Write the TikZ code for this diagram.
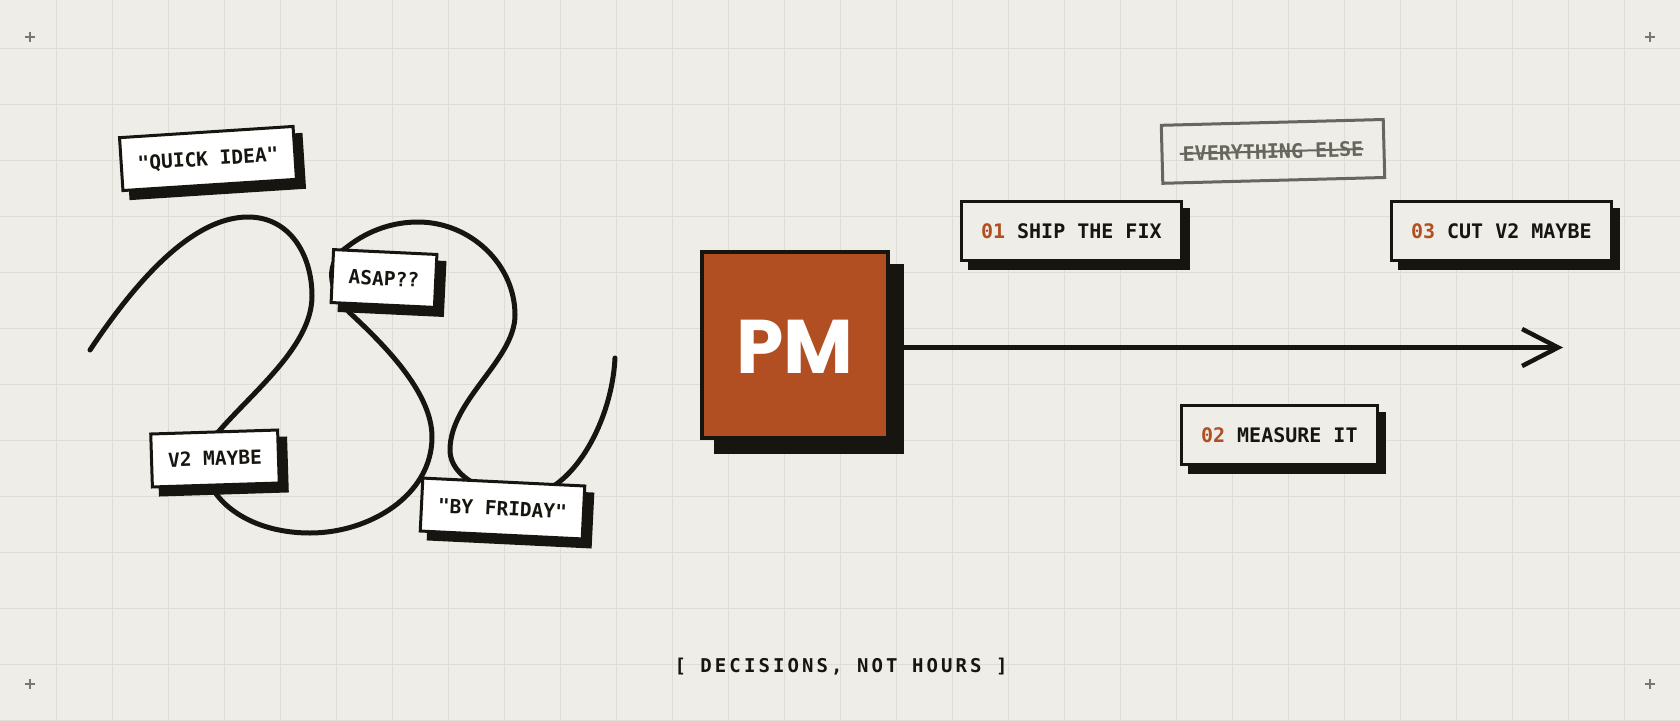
\documentclass[tikz,border=0pt]{standalone}
\usepackage{fontspec}
\usepackage{xcolor}
\usepackage{tikz}
\usetikzlibrary{arrows.meta,shadows}

\newfontfamily\monofont{DejaVu Sans Mono}
\newfontfamily\capsfont{DejaVu Sans Mono}[LetterSpace=16.2]
\newfontfamily\pmfont{Poppins}

\definecolor{paper}{HTML}{EEEDE7}
\definecolor{gridgray}{HTML}{DDDCD5}
\definecolor{ink}{HTML}{17150F}
\definecolor{rust}{HTML}{B14F22}
\definecolor{fadegray}{HTML}{67665E}
\definecolor{markgray}{HTML}{77766F}

\newcommand{\num}[1]{\textcolor{rust}{#1}}
\newcommand{\strikeout}[1]{\setbox0\hbox{#1}\rlap{\kern-3pt\rule[6.3pt]{\dimexpr\wd0+3pt\relax}{2pt}}\box0}

\tikzset{
  gridline/.style={draw=gridgray, line width=0.8pt},
  cornermark/.style={draw=markgray, line width=1.3pt},
  scribble/.style={draw=ink, line width=5pt, line cap=round, line join=round},
  note/.style={draw=ink, line width=3pt, fill=white, text=ink,
    inner xsep=16.5pt, inner ysep=0pt, minimum height=53pt,
    text height=14.2pt, text depth=0pt,
    font=\monofont\bfseries\fontsize{19.5}{22}\selectfont,
    drop shadow={shadow xshift=8pt, shadow yshift=-8pt, fill=ink, draw=ink, opacity=1}},
  task/.style={draw=ink, line width=3pt, fill=paper, text=ink,
    inner xsep=19.5pt, inner ysep=0pt, minimum height=58.7pt,
    text height=14.6pt, text depth=0pt,
    font=\monofont\bfseries\fontsize{20}{24}\selectfont,
    drop shadow={shadow xshift=7.5pt, shadow yshift=-8pt, fill=ink, draw=ink, opacity=1}},
  pmbox/.style={draw=ink, line width=4pt, fill=rust, text=white,
    minimum size=186pt, inner sep=0pt, text height=58pt, text depth=0pt,
    font=\pmfont\bfseries\fontsize{76}{80}\selectfont,
    drop shadow={shadow xshift=14pt, shadow yshift=-14pt, fill=ink, draw=ink, opacity=1}},
  dropped/.style={draw=fadegray, line width=3pt, text=fadegray,
    inner xsep=20.7pt, inner ysep=0pt, minimum height=58pt,
    text height=14.6pt, text depth=0pt,
    font=\monofont\bfseries\fontsize{20}{24}\selectfont},
  flow/.style={draw=ink, line width=4.5pt, -{Straight Barb[length=36pt,width=37pt]}},
}

\begin{document}
\begin{tikzpicture}[x=1pt,y=-1pt]
  \useasboundingbox (0,0) rectangle (1680,720);
  \fill[paper] (0,0) rectangle (1680,720);

  % grid
  \foreach \gx in {56,112,...,1624}
    \draw[gridline] (\gx,0) -- (\gx,720);
  \foreach \gy in {48,104,...,720}
    \draw[gridline] (0,\gy) -- (1680,\gy);

  % corner marks
  \foreach \cx/\cy in {30/37, 1650/37, 30/684, 1650/684}
    \draw[cornermark] (\cx-5,\cy) -- (\cx+5,\cy) (\cx,\cy-5) -- (\cx,\cy+5);

  % the tangle of requests
  \draw[scribble] (90,350)
    .. controls (140,275) and (195,217) .. (248,217)
    .. controls (290,217) and (312,255) .. (312,296)
    .. controls (312,345) and (255,390) .. (220,430)
    .. controls (180,470) and (225,533) .. (310,533)
    .. controls (370,533) and (432,495) .. (432,437)
    .. controls (432,395) and (390,350) .. (350,313)
    .. controls (326,289) and (326,261) .. (347,247)
    .. controls (370,229) and (395,222) .. (418,222)
    .. controls (470,222) and (515,264) .. (515,315)
    .. controls (515,360) and (450,400) .. (450,450)
    .. controls (450,485) and (510,500) .. (530,496)
    .. controls (575,488) and (612,420) .. (615,358);

  % incoming notes
  \node[note, rotate=3.7]  (quick)  at (208,158.5) {"QUICK IDEA"};
  \node[note, rotate=-2.7] (asap)   at (384,278.5) {ASAP??};
  \node[note, rotate=1.8]  (v2)     at (215,458.5) {V2 MAYBE};
  \node[note, rotate=-2.8] (friday) at (502.5,508.5) {"BY FRIDAY"};

  % the filter
  \node[pmbox] (pm) at (795,344.5) {PM};

  % what comes out
  \coordinate (tip) at (1563,347.5);
  \draw[flow] (pm.east |- tip) -- (tip);

  \node[task] (ship)    at (1071.3,230.8) {\num{01} SHIP THE FIX};
  \node[task] (measure) at (1279.3,435.2) {\num{02} MEASURE IT};
  \node[task] (cut)     at (1501.3,231.2) {\num{03} CUT V2 MAYBE};

  \node[dropped, rotate=1.5] (rest) at (1273,151.4) {\strikeout{EVERYTHING ELSE}};

  \node[text=ink, font=\capsfont\bfseries\fontsize{19}{22}\selectfont] (motto)
    at (841,667) {[ DECISIONS, NOT HOURS ]};
\end{tikzpicture}
\end{document}
